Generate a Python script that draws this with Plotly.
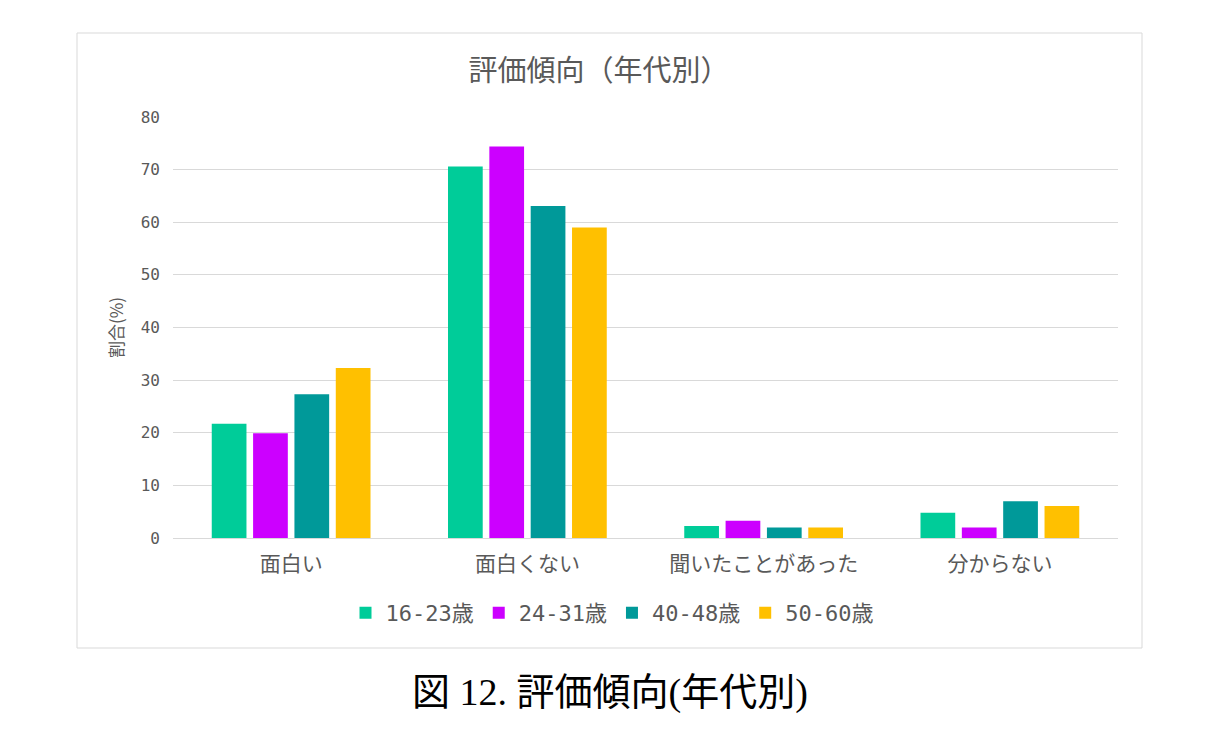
import plotly.graph_objects as go

categories = ["面白い", "面白くない", "聞いたことがあった", "分からない"]
series_names = ["16-23歳", "24-31歳", "40-48歳", "50-60歳"]
v_16_23 = [21.7, 70.6, 2.3, 4.8]
v_24_31 = [19.9, 74.4, 3.3, 2.0]
v_40_48 = [27.3, 63.1, 2.0, 7.0]
v_50_60 = [32.3, 59.0, 2.0, 6.1]
colors = ["#00CC99", "#CC00FF", "#009999", "#FFC000"]
y_ticks = [0, 10, 20, 30, 40, 50, 60, 70, 80]

W, H = 1220, 730
OFF = 8  # page body margin
L, R, T, B = 173, 1118, 117, 538
pw, ph = R - L, B - T

fig = go.Figure()
for name, vals, c in zip(series_names, [v_16_23, v_24_31, v_40_48, v_50_60], colors):
    fig.add_trace(go.Bar(x=categories, y=vals, name=name, marker=dict(color=c, line=dict(width=0))))

cjk = "Noto Sans CJK JP"
mono = "DejaVu Sans Mono, Noto Sans CJK JP"
gray = "#595959"
fig.update_layout(
    width=W, height=H,
    margin=dict(l=L - OFF, r=W - R + OFF, t=T - OFF, b=H - B + OFF, autoexpand=False),
    paper_bgcolor="white", plot_bgcolor="white",
    barmode="group", bargap=0.3, bargroupgap=0.16,
    font=dict(family=cjk, color=gray),
    title=dict(text="評価傾向（年代別）", x=(599 - OFF) / W, xanchor="center",
               y=1 - (71 - OFF) / H, yanchor="middle", font=dict(size=29, color=gray, family=cjk)),
    xaxis=dict(showline=True, linecolor="#d9d9d9", linewidth=1, ticks="",
               tickfont=dict(size=21, color=gray, family=cjk), ticklabelstandoff=7),
    yaxis=dict(range=[0, 80], tickvals=y_ticks, showgrid=True, gridcolor="#d9d9d9", gridwidth=1,
               zeroline=False, ticks="", tickfont=dict(size=16, color=gray, family=mono),
               ticklabelstandoff=12,
               title=dict(text="割合(%)", font=dict(size=17, color=gray, family=cjk), standoff=12)),
    legend=dict(orientation="h", x=(612 - L) / pw, xanchor="center", y=(B - 613) / ph, yanchor="middle",
                font=dict(size=22, color=gray, family=mono), itemwidth=30, traceorder="normal"),
    shapes=[dict(type="rect", xref="paper", yref="paper",
                 x0=(77 - L) / pw, x1=(1142 - L) / pw, y0=(B - 648) / ph, y1=(B - 33) / ph,
                 line=dict(color="#d9d9d9", width=1), fillcolor="rgba(0,0,0,0)", layer="below")],
    annotations=[dict(text="図 12. 評価傾向(年代別)", xref="paper", yref="paper",
                      x=(610 - L) / pw, y=(B - 692) / ph, xanchor="center", yanchor="middle",
                      showarrow=False, font=dict(size=38, color="black", family="Liberation Serif, " + cjk))],
)
fig.write_html("out.html")
